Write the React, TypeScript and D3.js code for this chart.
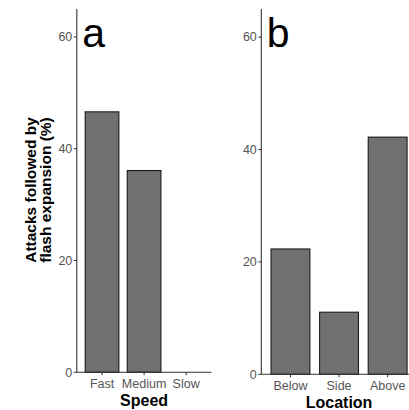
import React from "react";
import * as d3 from "d3";

const speedCats = ["Fast", "Medium", "Slow"];
const speedVals = [46.6, 36.1, 0];
const locCats = ["Below", "Side", "Above"];
const locVals = [22.3, 11.05, 42.2];
const yTicks = [0, 20, 40, 60];

const W = 409, H = 410;
const FONT = "'Liberation Sans', Arial, Helvetica, sans-serif";

type PanelProps = {
  cats: string[]; vals: number[]; x0: number; x1: number; yBottom: number; yTop: number;
  letter: string; title: string; labelY: number; titleY: number;
};

function Panel({ cats, vals, x0, x1, yBottom, yTop, letter, title, labelY, titleY }: PanelProps) {
  const x = d3.scaleBand<string>().domain(cats).range([x0, x1]).paddingInner(0.2).paddingOuter(0.2);
  const y = d3.scaleLinear().domain([0, 65]).range([yBottom, yTop]);
  return (
    <g>
      {cats.map((c, i) => (
        <rect key={c} x={x(c)!} y={y(vals[i])} width={x.bandwidth()} height={Math.max(0, y(0) - y(vals[i]))}
          fill="#707070" stroke="#1a1a1a" strokeWidth={1.1} />
      ))}
      <line x1={x0} x2={x1} y1={y(0)} y2={y(0)} stroke="#333" strokeWidth={1.1} />
      <line x1={x0} x2={x0} y1={y(0)} y2={yTop} stroke="#333" strokeWidth={1.1} />
      {yTicks.map((t) => (
        <g key={t}>
          <line x1={x0 - 3} x2={x0} y1={y(t)} y2={y(t)} stroke="#333" strokeWidth={1} />
          <text x={x0 - 4.5} y={y(t)} dy="0.35em" textAnchor="end" fontSize={12.5} fill="#555" fontFamily={FONT}>{t}</text>
        </g>
      ))}
      {cats.map((c) => (
        <g key={c}>
          <line x1={x(c)! + x.bandwidth() / 2} x2={x(c)! + x.bandwidth() / 2} y1={y(0)} y2={y(0) + 3} stroke="#333" strokeWidth={1} />
          <text x={x(c)! + x.bandwidth() / 2} y={labelY} textAnchor="middle" fontSize={12.5} fill="#555" fontFamily={FONT}>{c}</text>
        </g>
      ))}
      <text x={x0 + 5.5} y={47} fontSize={41} fill="#000" fontFamily={FONT}>{letter}</text>
      <text x={(x0 + x1) / 2} y={titleY} textAnchor="middle" fontSize={16} fontWeight="bold" fill="#000" fontFamily={FONT}>{title}</text>
    </g>
  );
}

export default function App() {
  return (
    <svg width={W} height={H} style={{ position: "absolute", left: 0, top: 0, background: "#fff" }}>
      <rect x={0} y={0} width={W} height={H} fill="#fff" />
      <Panel cats={speedCats} vals={speedVals} x0={76.8} x1={211.4} yBottom={372.3} yTop={9} letter="a" title="Speed" labelY={388} titleY={405.5} />
      <Panel cats={locCats} vals={locVals} x0={261.3} x1={416.8} yBottom={374.3} yTop={9} letter="b" title="Location" labelY={390} titleY={407.5} />
      <g transform="translate(36,190) rotate(-90)">
        <text x={0} y={-0.5} textAnchor="middle" fontSize={15.5} fontWeight="bold" fill="#000" fontFamily={FONT}>Attacks followed by</text>
        <text x={0} y={14.5} textAnchor="middle" fontSize={15.5} fontWeight="bold" fill="#000" fontFamily={FONT}>flash expansion (%)</text>
      </g>
    </svg>
  );
}
